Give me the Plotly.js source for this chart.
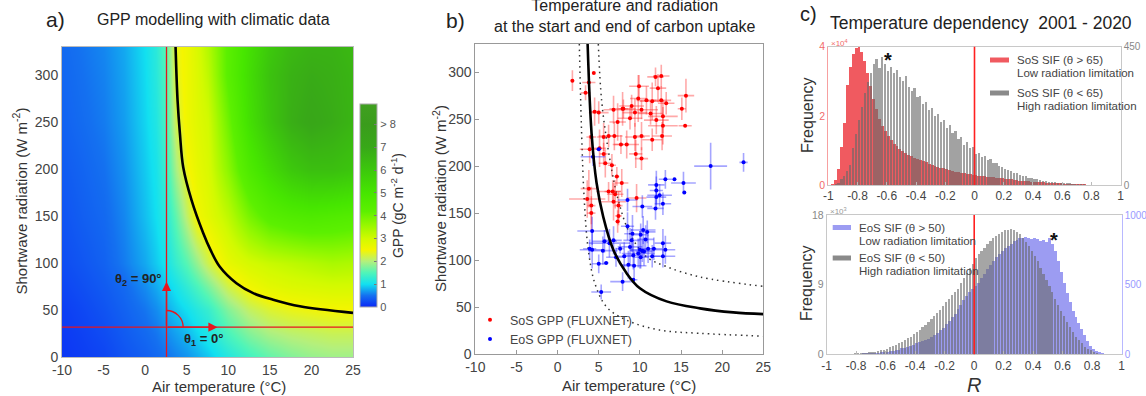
<!DOCTYPE html>
<html><head><meta charset="utf-8">
<script src="https://cdn.plot.ly/plotly-3.0.1.min.js"></script>
<style>html,body{margin:0;padding:0;background:#fff}</style>
</head><body><div id="chart" style="width:1146px;height:396px"></div>
<script>
// ---------- Panel a: GPP model field (coarse grid) ----------
const gridT  = [-10,-7.5,-5,-2.5,0,1.25,2.5,3.75,5,6.25,7.5,10,12.5,15,17.5,20,22.5,25];
const gridSW = [0,25,50,75,100,150,200,250,300,330];
const gppGrid = [
 [0.10,0.15,0.20,0.30,0.38,0.44,0.50,0.58,0.66,0.76,0.88,1.15,1.40,1.60,1.75,1.85,1.90,1.90],
 [0.12,0.18,0.25,0.35,0.45,0.52,0.62,0.72,0.82,0.95,1.10,1.45,1.75,1.95,2.05,2.10,2.15,2.15],
 [0.15,0.22,0.30,0.40,0.52,0.62,0.75,0.88,1.00,1.15,1.30,1.75,2.10,2.30,2.40,2.45,2.50,2.50],
 [0.20,0.27,0.35,0.45,0.62,0.75,0.90,1.05,1.25,1.45,1.70,2.20,2.55,2.75,2.85,2.90,2.95,2.95],
 [0.25,0.32,0.40,0.55,0.75,0.90,1.05,1.30,1.55,1.85,2.20,2.70,2.95,3.10,3.20,3.30,3.40,3.35],
 [0.30,0.38,0.45,0.60,0.85,1.00,1.20,1.60,2.10,2.55,2.75,3.20,3.90,4.40,4.60,4.70,4.60,4.50],
 [0.35,0.42,0.50,0.65,0.90,1.05,1.35,1.95,2.45,2.70,2.90,3.70,4.70,5.40,6.00,6.30,6.30,6.10],
 [0.40,0.47,0.55,0.70,0.95,1.12,1.45,2.20,2.60,2.80,3.00,4.00,5.20,6.10,6.80,7.10,6.90,6.60],
 [0.43,0.50,0.58,0.73,0.98,1.18,1.50,2.35,2.60,2.85,3.20,4.30,5.30,6.20,6.70,6.90,6.80,6.60],
 [0.45,0.52,0.60,0.75,1.00,1.20,1.55,2.40,2.60,2.90,3.30,4.30,5.20,6.00,6.50,6.70,6.70,6.50]
];
const cbTickVals = [0,1,2,3,4,5,6,7,8];
const cbTickText = ['0','1','2','3','4','5','6','7','> 8'];
const curveA_T  = [3.66,3.9,4.18,4.58,5.58,6.98,7.86,8.98,10.98,12.99,15.4,18.6,25];
const curveA_SW = [330,273,238,202,167,132,114,96,78.5,68,61,54,47];
const theta0T = 2.57, theta0SW = 31.8;

// ---------- Panel b: FLUXNET points ----------
const curveB_T  = [3.65,4.13,4.74,5.55,6.77,8.39,10.0,13.25,17.3,21.35,25];
const curveB_SW = [330,235,182,146,111,86,70,56,48.6,44.3,42.5];
const dotLo_T  = [2.64,2.92,3.24,3.73,4.54,5.96,8.39,12.4,17.3,25];
const dotLo_SW = [330,235,164,111,75,50,36,25.5,22,19];
const dotHi_T  = [4.95,5.35,6.16,7.37,8.79,10.8,13.25,17.3,25];
const dotHi_SW = [330,270,217,164,128,103.5,93,82,72];

const sosT  = [1.8,4.4,3.8,3.4,4.5,5.0,5.6,6.2,6.8,7.9,7.3,6.9,7.7,8.4,9.0,9.4,9.8,9.9,9.4,9.5,10.2,10.2,10.2,11.5,11.5,11.9,12.2,12.6,12.6,12.8,12.8,12.7,13.2,15.1,15.6,15.5,3.9,5.1,5.6,5.8,6.6,7.2,7.8,3.8,3.6,4.1,4.1,6.7,7.0,6.8,7.4,7.3,9.6,7.4,6.2,10.8,11.3,12.0,8.8,8.0,4.1];
const sosSW = [291,299,289,278,258,257,231,232,260,261,247,232,223,223,264,257,272,285,231,213,208,260,232,269,228,295,283,296,270,253,243,232,267,261,275,243,218,219,213,203,201,189,182,176,165,158,150,173,170,162,158,141,166,147,173,270,256,249,251,261,231];
const sosTe = [0.2,0,0.8,0.6,0.6,1.2,0.8,1.2,1.2,1.6,1.0,1.0,1.0,1.5,1.5,1.5,1.0,1.2,1.2,0.8,0.8,2.0,1.0,1.5,1.2,1.0,1.0,1.0,1.2,1.8,1.8,1.2,1.0,0.5,1.0,0.8,1.2,0.8,0.5,0.8,0.5,0.3,0.8,1.0,2.2,0.5,0.5,1.0,1.0,1.5,0.5,0.3,1.2,0.4,1.5,1.2,1.5,1.5,1.5,0.6,0.6];
const sosSWe= [11,0,15,8,15,12,15,12,15,18,20,15,10,15,12,15,25,12,15,15,12,10,15,20,12,10,15,12,15,18,20,15,12,12,18,0,15,20,12,15,12,10,15,20,20,20,18,12,15,20,15,12,15,10,10,15,12,15,12,10,12];

const eosT  = [5.0,4.3,18.6,22.6,13.1,14.2,15.3,15.4,12.0,12.0,12.0,12.4,12.8,11.9,10.3,8.5,8.5,9.1,10.4,10.9,4.2,4.2,5.7,6.3,7.6,5.5,5.0,5.9,8.1,8.8,9.2,9.3,9.8,10.0,10.3,10.5,10.1,11.0,11.7,12.8,13.1,12.8,10.1,10.7,7.9,9.2,5.3,9.0,11.5,8.6,6.8,3.9,7.1];
const eosSW = [218,210,200,204,186,186,182,172,180,174,167,169,160,155,157,164,136,128,132,130,131,111,120,118,112,110,96,97,104,114,105,94,107,111,110,109,103,112,112,118,111,104,127,122,77,79,66,121,104,95,121,112,103];
const eosTe = [0.3,1.5,2.0,0.5,0.8,0,1.5,0,1.0,0.8,1.2,1.5,1.0,1.0,1.2,1.2,0.8,1.0,1.5,1.0,1.8,1.5,1.5,2.5,0.5,1.8,0.8,0.3,1.0,1.5,1.2,1.5,2.0,1.2,1.5,1.0,1.0,1.0,1.0,1.0,1.2,1.5,1.0,1.0,1.5,0.5,1.2,1.0,1.0,0.8,1.0,0.8,1.2];
const eosSWe= [0,10,25,10,10,0,12,0,15,15,12,12,12,12,12,12,15,20,15,12,15,20,12,15,5,15,10,0,15,20,15,15,15,20,12,15,12,15,12,15,15,12,12,15,10,0,8,12,12,15,15,10,10];

// ---------- Panel c: histograms of R (bins of 0.02 from -1 to 1) ----------
const binStart = -0.99, binWidth = 0.02;
const sosLowRad = [0,0.02,0.15,0.45,1.1,1.8,2.9,3.4,3.8,3.97,4.0,3.85,3.6,3.23,2.85,2.5,2.2,1.9,1.7,1.55,
 1.42,1.3,1.2,1.12,1.05,0.98,0.93,0.88,0.83,0.78,0.74,0.71,0.69,0.66,0.62,0.58,0.55,0.52,0.5,0.48,
 0.46,0.43,0.41,0.39,0.37,0.35,0.34,0.32,0.31,0.3,0.28,0.27,0.26,0.25,0.24,0.23,0.22,0.21,0.2,0.19,
 0.18,0.17,0.16,0.15,0.14,0.13,0.12,0.115,0.11,0.1,0.095,0.09,0.08,0.075,0.07,0.065,0.06,0.055,0.05,0.045,
 0.04,0.035,0.03,0.03,0.025,0.02,0.02,0.015,0.01,0.005,0,0,0,0,0,0,0,0,0,0];
const sosHighRad = [0,0,2,8,18,30,45,65,120,165,210,255,300,335,365,395,410,380,415,395,
 370,385,365,375,350,340,355,320,305,315,285,290,265,270,245,250,225,230,205,210,
 185,195,170,175,150,155,130,140,120,125,100,105,90,95,80,85,70,72,62,60,
 52,50,44,40,38,33,30,28,24,22,20,18,15,14,12,11,10,9,8,7,
 6,5,5,4,3,3,2,2,1,1,0,0,0,0,0,0,0,0,0,0];
const eosLowRad = [0,0,0,0,0,1,1,2,2,3,4,5,6,7,8,9,10,12,14,17,
 20,23,26,30,34,42,48,55,62,70,78,85,92,100,112,125,140,155,172,192,
 215,240,265,292,322,355,390,420,450,472,490,515,545,580,610,640,668,695,718,740,
 760,778,795,810,822,832,838,842,838,830,835,825,815,820,805,835,790,740,670,590,
 510,440,375,310,270,225,180,135,95,62,38,24,14,8,4,2,1,0,0,0];
const eosHighRad = [0,0,0.01,0.02,0.03,0.04,0.05,0.07,0.09,0.11,0.13,0.16,0.19,0.22,0.26,0.3,0.36,0.43,0.52,0.62,
 0.74,0.9,1.07,1.25,1.45,1.65,1.85,2.07,2.3,2.6,2.9,3.2,3.5,3.8,4.15,4.5,4.9,5.3,5.7,6.2,
 6.7,7.2,7.6,8.0,8.5,9.2,9.9,10.5,11.2,11.7,12.4,12.9,13.4,13.8,14.2,14.6,15.0,15.3,15.6,15.8,
 16.0,16.1,16.2,16.1,15.8,15.5,15.0,14.5,14.0,13.4,12.7,12.0,11.2,10.4,9.6,8.8,8.0,7.2,6.4,5.6,
 4.9,4.2,3.5,2.9,2.3,1.8,1.4,1.0,0.7,0.5,0.3,0.18,0.1,0.05,0.02,0,0,0,0,0];
const rTickVals = [-1,-0.8,-0.6,-0.4,-0.2,0,0.2,0.4,0.6,0.8,1];
const rTickText = ['-1','-0.8','-0.6','-0.4','-0.2','0','0.2','0.4','0.6','0.8','1'];

// ---------- layout helpers (pixel -> paper) ----------
const W = 1146, H = 396;
const px = v => v / W, py = v => 1 - v / H;
const FONT = 'Liberation Sans, Arial, sans-serif';
const RED = '#e8141e';
function ann(xPix, yPix, text, size, color, extra) {
  return Object.assign({xref:'paper', yref:'paper', x:px(xPix), y:py(yPix), text:text, showarrow:false,
    xanchor:'center', yanchor:'middle', font:{size:size, color:color, family:FONT}}, extra || {});
}

const colorscale = [
 [0,'#0a28f5'],[0.056,'#1470f0'],[0.112,'#12e0f0'],[0.169,'#50f5b8'],[0.225,'#b4f07c'],
 [0.281,'#f5f500'],[0.337,'#d2fa00'],[0.404,'#96f800'],[0.472,'#5cf000'],[0.562,'#46e600'],
 [0.674,'#3cc80c'],[0.787,'#38a818'],[0.899,'#3a9c1c'],[1,'#40a020']];

const traces = [
 {type:'heatmap', x:gridT, y:gridSW, z:gppGrid, zsmooth:'best', zmin:0, zmax:8.9,
  colorscale:colorscale, xaxis:'x', yaxis:'y', hoverinfo:'skip', showlegend:false,
  colorbar:{x:px(360), xanchor:'left', y:py(205.5), yanchor:'middle', len:(307-104)/H, lenmode:'fraction',
   thickness:17, thicknessmode:'pixels', xpad:0, ypad:0, outlinecolor:'#aaa', outlinewidth:1,
   tickvals:cbTickVals, ticktext:cbTickText, ticks:'inside', ticklen:3, tickcolor:'#777',
   tickfont:{size:11, color:'#555', family:FONT},
   title:{text:'GPP (gC m<sup>-2</sup> d<sup>-1</sup>)', side:'right', font:{size:14, color:'#333', family:FONT}}}},
 {type:'scatter', mode:'lines', x:curveA_T, y:curveA_SW, xaxis:'x', yaxis:'y', showlegend:false,
  line:{color:'#000', width:2.6, shape:'spline', smoothing:1}, hoverinfo:'skip'},

 {type:'scatter', mode:'lines', x:dotLo_T, y:dotLo_SW, xaxis:'x2', yaxis:'y2', showlegend:false,
  line:{color:'#333', width:1.5, dash:'1.5px,4px', shape:'spline'}, hoverinfo:'skip'},
 {type:'scatter', mode:'lines', x:dotHi_T, y:dotHi_SW, xaxis:'x2', yaxis:'y2', showlegend:false,
  line:{color:'#333', width:1.5, dash:'1.5px,4px', shape:'spline'}, hoverinfo:'skip'},
 {type:'scatter', mode:'markers', name:'SoS GPP (FLUXNET)', x:sosT, y:sosSW, xaxis:'x2', yaxis:'y2',
  marker:{color:'#ff0000', size:4},
  error_x:{type:'data', array:sosTe, visible:true, color:'rgba(255,30,30,0.38)', thickness:1.6, width:0},
  error_y:{type:'data', array:sosSWe, visible:true, color:'rgba(255,30,30,0.38)', thickness:1.6, width:0}},
 {type:'scatter', mode:'markers', name:'EoS GPP (FLUXNET)', x:eosT, y:eosSW, xaxis:'x2', yaxis:'y2',
  marker:{color:'#0000ff', size:4},
  error_x:{type:'data', array:eosTe, visible:true, color:'rgba(30,30,255,0.4)', thickness:1.6, width:0},
  error_y:{type:'data', array:eosSWe, visible:true, color:'rgba(30,30,255,0.4)', thickness:1.6, width:0}},
 {type:'scatter', mode:'lines', x:curveB_T, y:curveB_SW, xaxis:'x2', yaxis:'y2', showlegend:false,
  line:{color:'#000', width:2.6, shape:'spline', smoothing:1}, hoverinfo:'skip'},

 {type:'bar', name:'SoS SIF (θ > 65)', x0:binStart, dx:binWidth, y:sosLowRad, width:binWidth,
  xaxis:'x3', yaxis:'y3', marker:{color:'#f05a60', line:{width:0}}, showlegend:false},
 {type:'bar', name:'SoS SIF (θ < 65)', x0:binStart, dx:binWidth, y:sosHighRad, width:binWidth*0.75,
  xaxis:'x3', yaxis:'y4', marker:{color:'rgba(105,105,105,0.62)', line:{width:0}}, showlegend:false},
 {type:'bar', name:'EoS SIF (θ > 50)', x0:binStart, dx:binWidth, y:eosLowRad, width:binWidth,
  xaxis:'x4', yaxis:'y6', marker:{color:'#9c9cf2', line:{width:0}}, showlegend:false},
 {type:'bar', name:'EoS SIF (θ < 50)', x0:binStart, dx:binWidth, y:eosHighRad, width:binWidth*0.75,
  xaxis:'x4', yaxis:'y5', marker:{color:'rgba(105,105,105,0.6)', line:{width:0}}, showlegend:false}
];

const tickA = {size:14, color:'#444', family:FONT};
const tickC = {size:12, color:'#444', family:FONT};

const layout = {
 width:W, height:H, margin:{l:0,r:0,t:0,b:0}, paper_bgcolor:'#fff', plot_bgcolor:'#fff',
 font:{family:FONT}, barmode:'overlay', bargap:0, hovermode:false,
 xaxis:{domain:[px(62),px(353)], range:[-10,25], anchor:'y', tickvals:[-10,-5,0,5,10,15,20,25],
   ticktext:['-10','-5','0','5','10','15','20','25'], tickfont:tickA, showline:true, mirror:true,
   linecolor:'#bbb', ticks:'', showgrid:false, zeroline:false},
 yaxis:{domain:[py(357),py(47)], range:[0,330], anchor:'x', tickvals:[0,50,100,150,200,250,300],
   tickfont:tickA, showline:true, mirror:true, linecolor:'#bbb', ticks:'', showgrid:false, zeroline:false},
 xaxis2:{domain:[px(475.3),px(763.3)], range:[-10,25], anchor:'y2', tickvals:[-10,-5,0,5,10,15,20,25],
   ticktext:['-10','-5','0','5','10','15','20','25'], tickfont:tickA, showline:true, mirror:true,
   linecolor:'#999', ticks:'inside', ticklen:4, tickcolor:'#999', showgrid:false, zeroline:false},
 yaxis2:{domain:[py(354),py(44)], range:[0,330], anchor:'x2', tickvals:[0,50,100,150,200,250,300],
   tickfont:tickA, showline:true, mirror:true, linecolor:'#999', ticks:'inside', ticklen:4, tickcolor:'#999',
   showgrid:false, zeroline:false},
 xaxis3:{domain:[px(828.3),px(1120.7)], range:[-1,1], anchor:'y3', tickvals:rTickVals, ticktext:rTickText,
   tickfont:tickC, showline:true, mirror:true, linecolor:'#c8c8c8', ticks:'inside', ticklen:3, tickcolor:'#bbb',
   showgrid:false, zeroline:false},
 yaxis3:{domain:[py(185),py(46.7)], range:[0,4], anchor:'x3', side:'left', tickvals:[0,2,4],
   tickfont:{size:10.5, color:'#f26b6b', family:FONT}, showline:true, linecolor:'#f7a0a0', ticks:'',
   showgrid:false, zeroline:false},
 yaxis4:{overlaying:'y3', range:[0,450], anchor:'x3', side:'right', tickvals:[0,450],
   tickfont:{size:10, color:'#888', family:FONT}, showline:true, linecolor:'#c8c8c8', ticks:'',
   showgrid:false, zeroline:false},
 xaxis4:{domain:[px(826.7),px(1121.7)], range:[-1,1], anchor:'y6', tickvals:rTickVals, ticktext:rTickText,
   tickfont:tickC, showline:true, mirror:true, linecolor:'#c8c8c8', ticks:'inside', ticklen:3, tickcolor:'#bbb',
   showgrid:false, zeroline:false},
 yaxis6:{domain:[py(354.3),py(215)], range:[0,1000], anchor:'x4', side:'right', tickvals:[0,500,1000],
   tickfont:{size:10, color:'#9a9aff', family:FONT}, showline:true, linecolor:'#b8b8ff', ticks:'',
   showgrid:false, zeroline:false},
 yaxis5:{overlaying:'y6', range:[0,18], anchor:'x4', side:'left', tickvals:[0,9,18],
   tickfont:{size:10.5, color:'#888', family:FONT}, showline:true, linecolor:'#c8c8c8', ticks:'',
   showgrid:false, zeroline:false},
 showlegend:true,
 legend:{x:px(470), y:py(305), xanchor:'left', yanchor:'top', bgcolor:'rgba(0,0,0,0)',
   font:{size:12.5, color:'#444', family:FONT}, tracegroupgap:0, itemwidth:30},
 shapes:[
  {type:'line', xref:'x', yref:'y', x0:theta0T, x1:theta0T, y0:0, y1:330, line:{color:RED, width:1.3}},
  {type:'line', xref:'x', yref:'y', x0:-10, x1:25, y0:theta0SW, y1:theta0SW, line:{color:RED, width:1.3}},
  {type:'path', xref:'x', yref:'y', path:'M 2.57,49.5 C 3.67,49.5 4.57,41.6 4.57,31.8', line:{color:RED, width:1.3}},
  {type:'line', xref:'x3', yref:'y3 domain', x0:0, x1:0, y0:0, y1:1, line:{color:'#ff2020', width:1.6}},
  {type:'line', xref:'x4', yref:'y6 domain', x0:0, x1:0, y0:0, y1:1, line:{color:'#ff2020', width:1.6}},
  {type:'rect', xref:'paper', yref:'paper', x0:px(990), x1:px(1009), y0:py(62.5), y1:py(57.5), fillcolor:'#f05a60', line:{width:0}},
  {type:'rect', xref:'paper', yref:'paper', x0:px(990), x1:px(1009), y0:py(95.5), y1:py(90.5), fillcolor:'#8a8a8a', line:{width:0}},
  {type:'rect', xref:'paper', yref:'paper', x0:px(832.7), x1:px(851), y0:py(230), y1:py(225), fillcolor:'#9c9cf2', line:{width:0}},
  {type:'rect', xref:'paper', yref:'paper', x0:px(832.7), x1:px(851), y0:py(260.5), y1:py(255.5), fillcolor:'#8a8a8a', line:{width:0}}
 ],
 annotations:[
  // arrows and theta labels (panel a)
  {xref:'x', yref:'y', axref:'x', ayref:'y', x:theta0T, y:80, ax:theta0T, ay:theta0SW, text:'', showarrow:true,
   arrowhead:2, arrowsize:1.3, arrowwidth:1.4, arrowcolor:RED},
  {xref:'x', yref:'y', axref:'x', ayref:'y', x:8.7, y:theta0SW, ax:theta0T, ay:theta0SW, text:'', showarrow:true,
   arrowhead:2, arrowsize:1.3, arrowwidth:1.4, arrowcolor:RED},
  ann(138, 279, '<b>θ<sub>2</sub> = 90°</b>', 13, '#222'),
  ann(203, 339, '<b>θ<sub>1</sub> = 0°</b>', 13, '#222'),
  // titles
  ann(55, 20, 'a)', 21, '#222'),
  ann(213, 20, 'GPP modelling with climatic data', 16, '#222'),
  ann(455, 21, 'b)', 21, '#222'),
  ann(625, 15.5, 'Temperature and radiation<br>at the start and end of carbon uptake', 16, '#222'),
  ann(808, 14, 'c)', 20, '#222'),
  ann(828, 23, 'Temperature dependency\u00a0\u00a02001 - 2020', 17.5, '#222', {xanchor:'left'}),
  // axis titles
  ann(19.5, 201, 'Shortwave radiation (W m<sup>-2</sup>)', 15, '#333', {textangle:-90}),
  ann(219, 386, 'Air temperature (°C)', 15, '#333'),
  ann(440, 199, 'Shortwave radiation (W m<sup>-2</sup>)', 15, '#333', {textangle:-90}),
  ann(629, 385, 'Air temperature (°C)', 15, '#333'),
  ann(807, 115, 'Frequency', 16, '#333', {textangle:-90}),
  ann(806, 283, 'Frequency', 16, '#333', {textangle:-90}),
  ann(974, 385, '<i>R</i>', 20, '#333'),
  // multipliers
  ann(829, 43, '×10<sup>4</sup>', 8, '#f26b6b', {xanchor:'left'}),
  ann(828, 211, '×10<sup>3</sup>', 8, '#999', {xanchor:'left'}),
  // asterisks
  {xref:'x3', yref:'paper', x:-0.59, y:py(60), xanchor:'center', yanchor:'middle', text:'<b>*</b>', showarrow:false, font:{size:20, color:'#111', family:FONT}},
  {xref:'x4', yref:'paper', x:0.54, y:py(240), xanchor:'center', yanchor:'middle', text:'<b>*</b>', showarrow:false, font:{size:20, color:'#111', family:FONT}},
  // panel c legends
  ann(1015, 60, 'SoS SIF (θ > 65)', 11.5, '#444', {xanchor:'left'}),
  ann(1015, 73, 'Low radiation limitation', 11.5, '#444', {xanchor:'left'}),
  ann(1015, 93, 'SoS SIF (θ < 65)', 11.5, '#444', {xanchor:'left'}),
  ann(1015, 106, 'High radiation limitation', 11.5, '#444', {xanchor:'left'}),
  ann(857.3, 227.5, 'EoS SIF (θ > 50)', 11.5, '#444', {xanchor:'left'}),
  ann(857.3, 240.5, 'Low radiation limitation', 11.5, '#444', {xanchor:'left'}),
  ann(857.3, 258, 'EoS SIF (θ < 50)', 11.5, '#444', {xanchor:'left'}),
  ann(857.3, 271, 'High radiation limitation', 11.5, '#444', {xanchor:'left'})
 ]
};

Plotly.newPlot('chart', traces, layout, {displayModeBar:false, staticPlot:true});
</script></body></html>
